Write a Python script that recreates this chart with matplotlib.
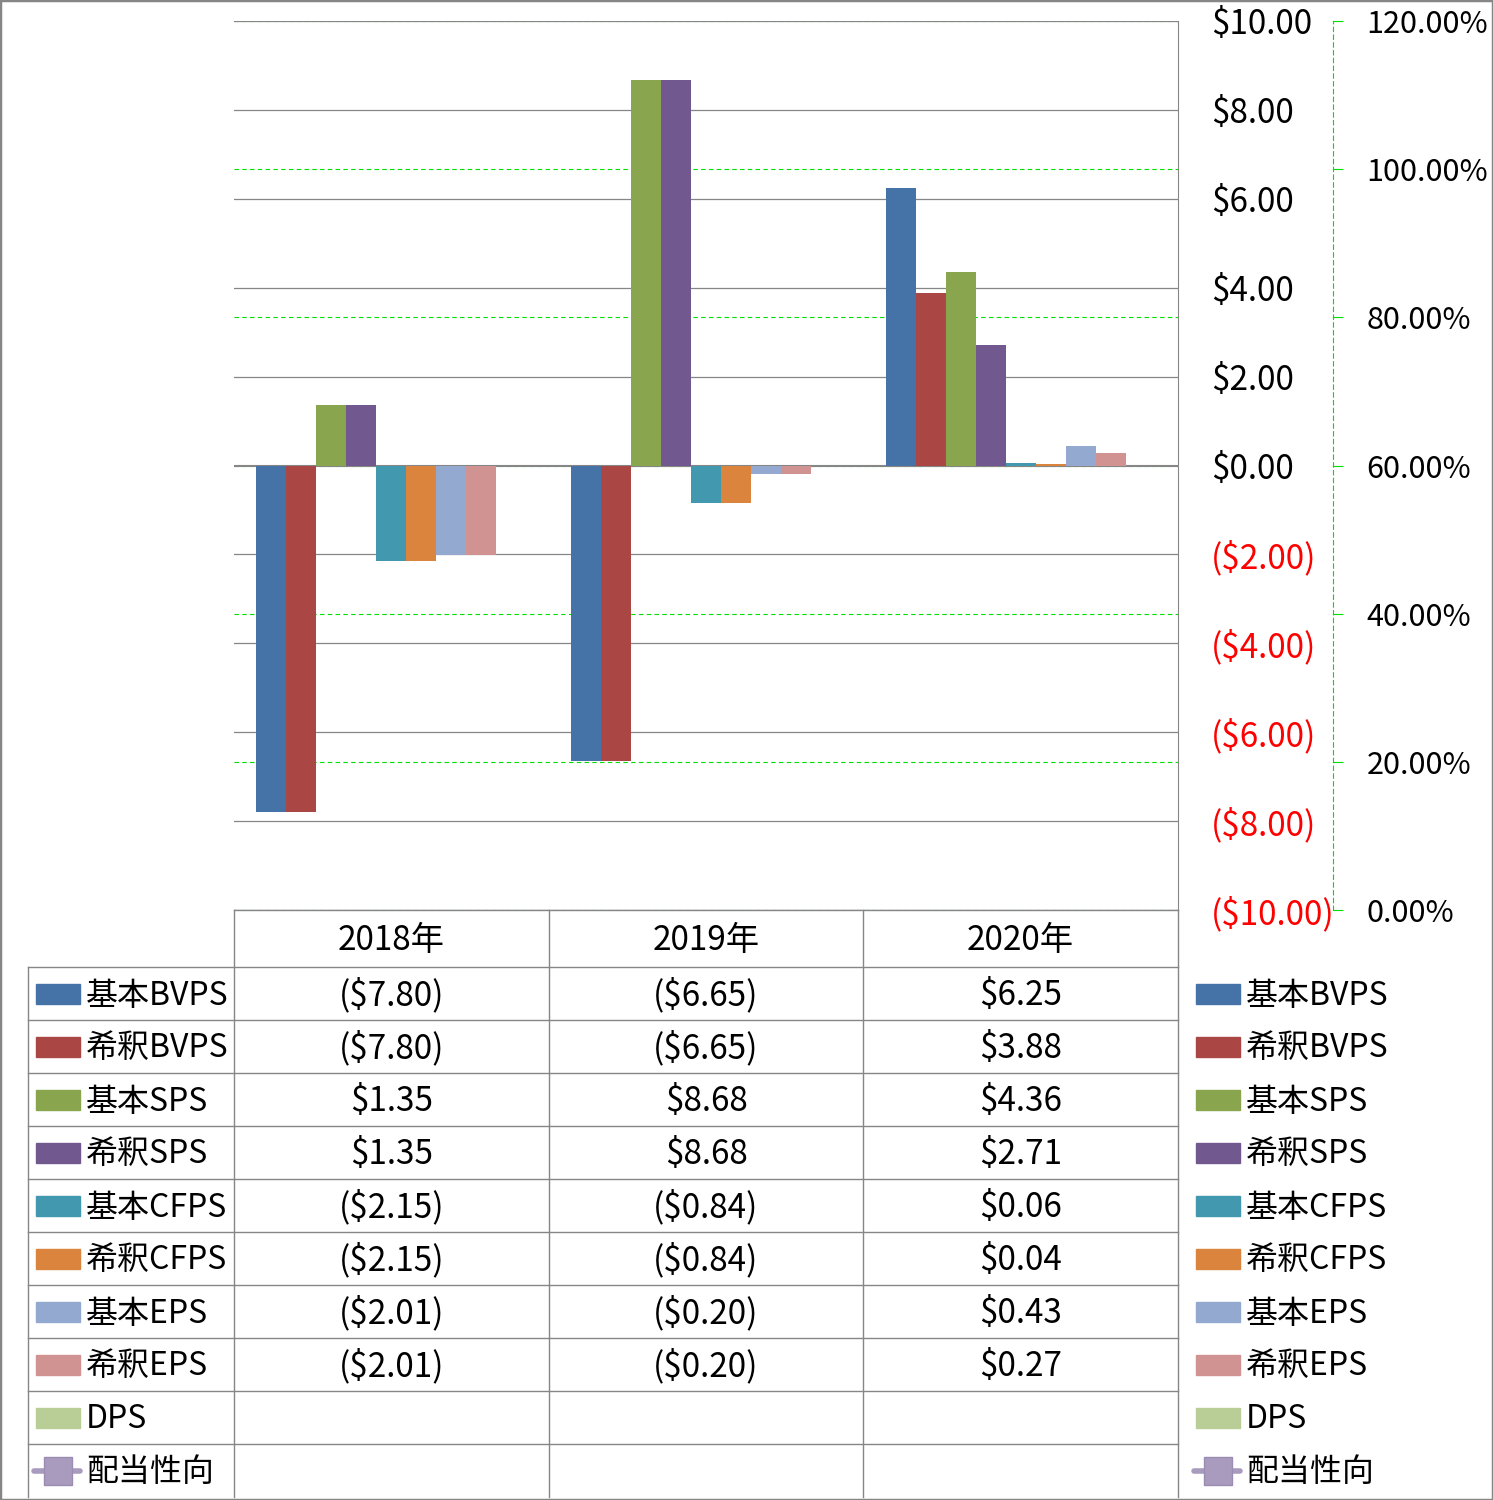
import numpy as np
import matplotlib.pyplot as plt
from matplotlib.patches import Rectangle

plt.rcParams['font.family'] = ['Noto Sans CJK JP', 'DejaVu Sans']

# data
years = ['2018年', '2019年', '2020年']
bvps_basic = [-7.80, -6.65, 6.25]
bvps_dil = [-7.80, -6.65, 3.88]
sps_basic = [1.35, 8.68, 4.36]
sps_dil = [1.35, 8.68, 2.71]
cfps_basic = [-2.15, -0.84, 0.06]
cfps_dil = [-2.15, -0.84, 0.04]
eps_basic = [-2.01, -0.20, 0.43]
eps_dil = [-2.01, -0.20, 0.27]
dps = [np.nan, np.nan, np.nan]
payout = [np.nan, np.nan, np.nan]

series = ['基本BVPS', '希釈BVPS', '基本SPS', '希釈SPS', '基本CFPS',
          '希釈CFPS', '基本EPS', '希釈EPS', 'DPS']
values = [bvps_basic, bvps_dil, sps_basic, sps_dil, cfps_basic,
          cfps_dil, eps_basic, eps_dil, dps]
colors = ['#4572A7', '#AA4643', '#89A54E', '#71588F', '#4198AF',
          '#DB843D', '#93A9CF', '#D19392', '#B9CD96']
payout_name = '配当性向'
payout_color = '#A99BBD'

dollar_ticks = np.arange(-10, 11, 2)
pct_ticks = np.arange(0, 1.21, 0.2)

W, H = 1493, 1500
FS = 24
GRAY = '#868686'
GREEN = '#00E000'


def money(v):
    if np.isnan(v):
        return ''
    return f'${v:.2f}' if v >= 0 else f'(${-v:.2f})'


fig = plt.figure(figsize=(W / 100, H / 100), dpi=100)

# layout axes in pixel coords for the data table
tab = fig.add_axes([0, 0, 1, 1])
tab.set_xlim(0, W)
tab.set_ylim(H, 0)
tab.axis('off')

x0, x1, y0, y1 = 234, 1178, 21, 910
ax = fig.add_axes([x0 / W, 1 - y1 / H, (x1 - x0) / W, (y1 - y0) / H])
ax2 = ax.twinx()
ax.set_zorder(ax2.get_zorder() + 1)
ax.patch.set_visible(False)

# bars
n = len(series)
w = 30 / ((x1 - x0) / 3)
x = np.arange(len(years))
for k in range(n):
    ax.bar(x + (k - (n - 1) / 2) * w, values[k], width=w, color=colors[k],
           zorder=3)
ax2.plot(x, payout, color=payout_color, marker='s')

ax.set_xlim(-0.5, len(years) - 0.5)
ax.set_ylim(-10, 10)
ax.set_xticks([])
ax.yaxis.tick_right()
ax.set_yticks(dollar_ticks, [money(v) for v in dollar_ticks])
for t, v in zip(ax.get_yticklabels(), dollar_ticks):
    t.set_color('red' if v < 0 else 'black')
ax.tick_params(axis='y', length=0, pad=24, labelsize=FS)
for ysv in dollar_ticks:
    ax.axhline(ysv, color=GRAY, lw=0.9 if ysv != 0 else 1.5, zorder=1)
for s in ['top', 'left', 'bottom']:
    ax.spines[s].set_visible(False)
ax.spines['right'].set_color(GRAY)

ax2.set_ylim(0, 1.2)
ax2.set_yticks(pct_ticks, [f'{v * 100:.2f}%' for v in pct_ticks])
ax2.spines['right'].set_position(('outward', (1333 - x1) * 0.72))
ax2.spines['right'].set_color(GREEN)
ax2.spines['right'].set_linestyle((0, (4, 3)))
ax2.spines['right'].set_linewidth(0.8)
for s in ['top', 'left', 'bottom']:
    ax2.spines[s].set_visible(False)
ax2.tick_params(axis='y', length=7, width=0.8, color=GREEN, pad=17,
                labelsize=22)
ax2.grid(axis='y', color=GREEN, ls=(0, (4, 3)), lw=0.8)

# data table
rows = np.linspace(967, 1497, 11)
cols = [234, 549, 863, 1178]
centers = [(cols[i] + cols[i + 1]) / 2 for i in range(3)]
dy = 2
tab.plot([234, 1178], [910, 910], color=GRAY, lw=1)
for yr in rows[:-1]:
    tab.plot([28, 1178], [yr, yr], color=GRAY, lw=1)
tab.plot([28, 28], [967, 1497], color=GRAY, lw=1)
for cx in cols:
    tab.plot([cx, cx], [910, 1497], color=GRAY, lw=1)
for j, yr in enumerate(years):
    tab.text(centers[j], (910 + 967) / 2 + dy, yr, ha='center', va='center',
             fontsize=FS)

for i, name in enumerate(series):
    yc = (rows[i] + rows[i + 1]) / 2
    for j in range(len(years)):
        tab.text(centers[j], yc + dy, money(values[i][j]), ha='center',
                 va='center', fontsize=FS)
    for lx in (36, 1196):
        tab.add_patch(Rectangle((lx, yc - 10), 44, 20, color=colors[i]))
        tab.text(lx + 50, yc + dy, name, ha='left', va='center', fontsize=23)

yc = (rows[9] + rows[10]) / 2
for lx in (36, 1196):
    tab.plot([lx - 2, lx + 44], [yc, yc], color=payout_color, lw=4,
             solid_capstyle='round')
    tab.plot([lx + 22], [yc], marker='s', ms=20, color=payout_color,
             mec='#9A8CB3')
    tab.text(lx + 50, yc + dy, payout_name, ha='left', va='center',
             fontsize=23)

fig.patches.append(Rectangle((0, 0), 1, 1, transform=fig.transFigure,
                             fill=False, edgecolor=GRAY, lw=2.5))

fig.savefig('out.png', dpi=100)
